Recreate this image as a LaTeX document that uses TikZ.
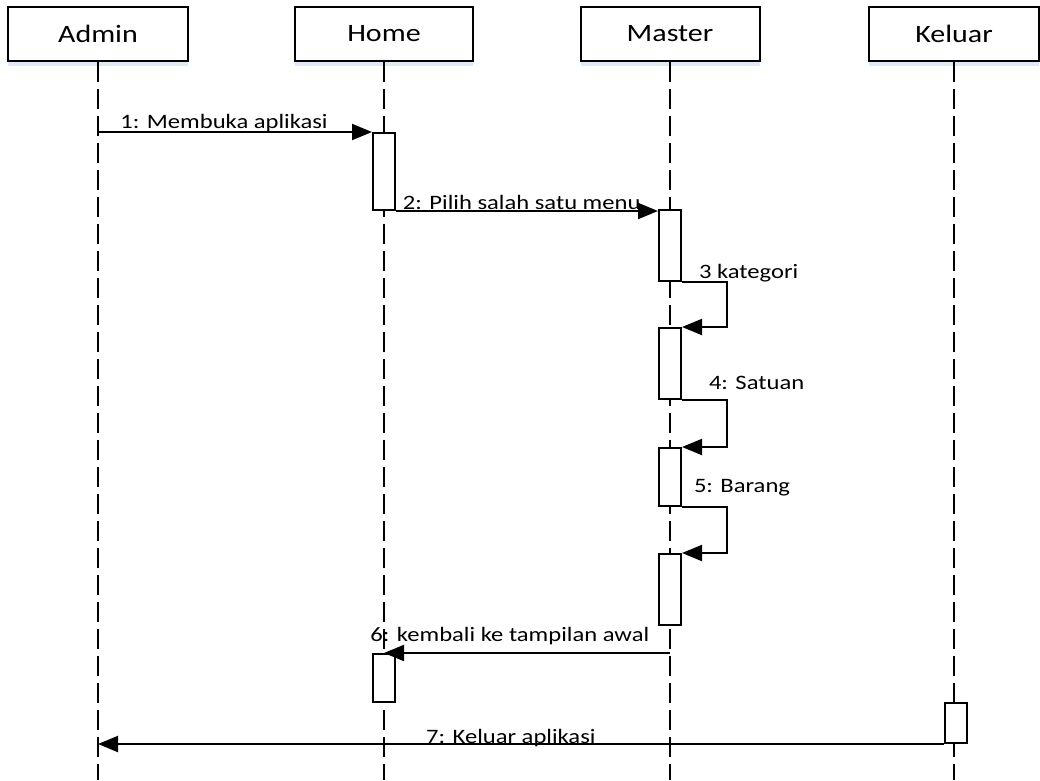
\documentclass[tikz,border=0pt]{standalone}
\usepackage{fontspec}
\setmainfont{Carlito}[FakeStretch=1.2]
\usetikzlibrary{arrows.meta,shadows}
\begin{document}
\begin{tikzpicture}[x=1pt,y=-1pt,
  actor/.style={draw, line width=2pt, fill=white, minimum height=54pt,
    inner sep=0pt, font=\fontsize{25}{28}\selectfont,
    drop shadow={shadow xshift=0pt, shadow yshift=-5pt,
      fill={rgb,255:red,200;green,220;blue,242}, opacity=.6}},
  lifeline/.style={line width=2.2pt, dash pattern=on 20pt off 7pt},
  act/.style={draw, line width=2pt, fill=white, minimum width=22pt,
    inner sep=0pt, anchor=north},
  msg/.style={line width=2pt, -{Triangle[length=20pt,width=16pt]}},
  lbl/.style={font=\fontsize{20.5}{24}\selectfont, inner sep=0pt, anchor=base},
]
\useasboundingbox (0,0) rectangle (1040,780);

% participants
\node[actor, minimum width=180pt] (admin)  at (98,34)  {Admin};
\node[actor, minimum width=178pt] (home)   at (384,34) {Home};
\node[actor, minimum width=179pt] (master) at (670,34) {Master};
\node[actor, minimum width=170pt] (keluar) at (954,34) {Keluar};

% lifelines
\foreach \p in {admin,home,master,keluar}
  \draw[lifeline] (\p.south) -- (\p.south |- 0,780);

% activation bars
\node[act, minimum height=77pt] (h1) at (384,132) {};
\node[act, minimum height=48pt] (h2) at (384,653) {};
\node[act, minimum height=71pt] (m1) at (670,209) {};
\node[act, minimum height=71pt] (m2) at (670,327) {};
\node[act, minimum height=58pt] (m3) at (670,447) {};
\node[act, minimum height=71pt] (m4) at (670,553) {};
\node[act, minimum height=40pt] (k1) at (956,702) {};

% messages
\draw[msg] (admin.south |- h1.north) --
  node[lbl, pos=0.46, yshift=4pt] {1: Membuka aplikasi} (h1.north west);
\draw[msg] (h1.south east) --
  node[lbl, pos=0.48, yshift=2pt] {2: Pilih salah satu menu} (h1.south east -| m1.north west);
\draw[msg] (m1.south east)
  node[lbl, anchor=base west, xshift=16pt, yshift=4pt] {3 kategori}
  -- ++(45,0) |- (m2.north east);
\draw[msg] (m2.south east)
  node[lbl, anchor=base west, xshift=26pt, yshift=11pt] {4: Satuan}
  -- ++(45,0) |- (m3.north east);
\draw[msg] (m3.south east)
  node[lbl, anchor=base west, xshift=11pt, yshift=15pt] {5: Barang}
  -- ++(45,0) |- (m4.north east);
\draw[msg] (m4.south |- h2.north) --
  node[lbl, pos=0.56, yshift=12pt] {6: kembali ke tampilan awal} (h2.north);
\draw[msg] (k1.south west) --
  node[lbl, pos=0.512, yshift=1pt] {7: Keluar aplikasi} (admin.south |- k1.south);
\end{tikzpicture}
\end{document}
